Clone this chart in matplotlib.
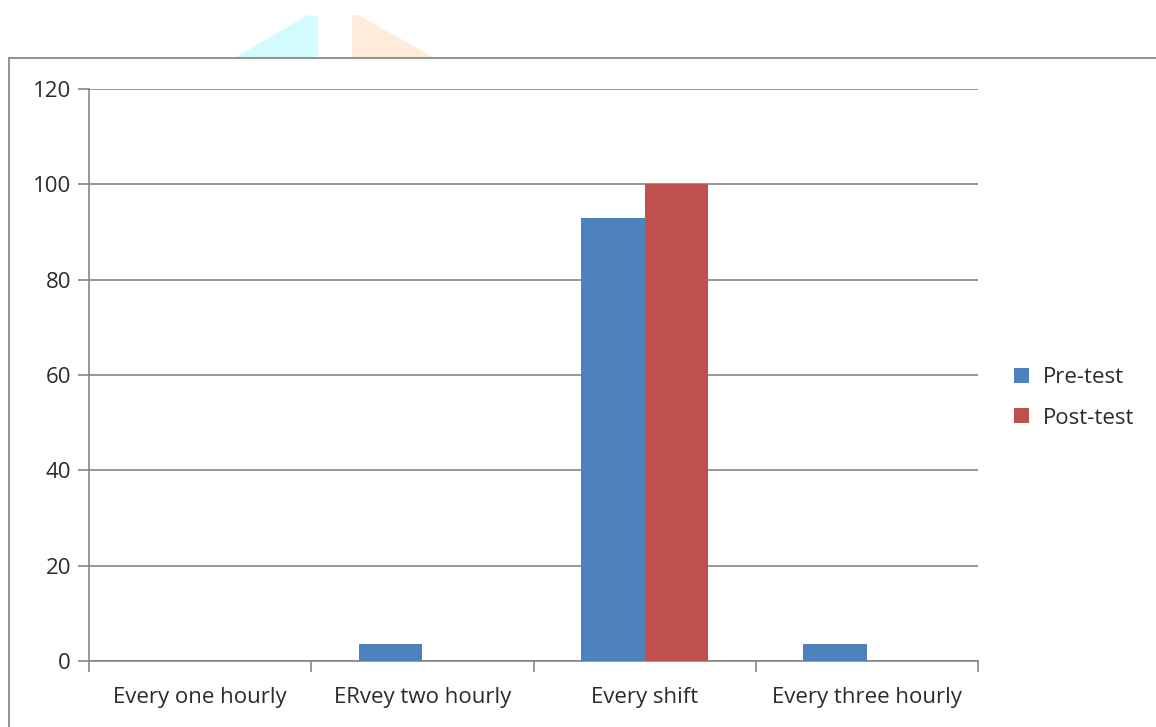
import matplotlib.pyplot as plt
from matplotlib.patches import Rectangle, Polygon

# survey answers (%)
categories = ['Every one hourly', 'ERvey two hourly', 'Every shift', 'Every three hourly']
pre_test = [0, 3.57, 92.86, 3.57]
post_test = [0, 0, 100, 0]
y_ticks = [0, 20, 40, 60, 80, 100, 120]

BLUE = '#4F81BD'
RED = '#C0504D'
GRID = '#868686'
TEXT = '#2b2b2b'
FS = 16

plt.rcParams['font.family'] = ['Open Sans', 'DejaVu Sans']

W, H = 1156, 727
fig = plt.figure(figsize=(W / 100, H / 100), dpi=100)

# faint logo shapes peeking above the chart frame
fig.patches.append(Polygon([(236 / W, 1 - 57 / H), (308 / W, 1 - 15 / H), (318 / W, 1 - 17 / H),
                            (318 / W, 1 - 57 / H)], closed=True, transform=fig.transFigure,
                           facecolor='#D2FBFD', edgecolor='none', zorder=0))
fig.patches.append(Polygon([(352 / W, 1 - 57 / H), (352 / W, 1 - 15 / H), (358 / W, 1 - 15 / H),
                            (433 / W, 1 - 57 / H)], closed=True, transform=fig.transFigure,
                           facecolor='#FEECDA', edgecolor='none', zorder=0))

# chart frame
fig.patches.append(Rectangle((8.5 / W, -0.1), 1.2, 1 - 57.5 / H + 0.1, transform=fig.transFigure,
                             facecolor='white', edgecolor='#7F7F7F', linewidth=1.2, zorder=1))

ax = fig.add_axes([89 / W, 1 - 661 / H, (978 - 89) / W, (661 - 89) / H])
ax.set_zorder(2)
ax.patch.set_alpha(0)

n = len(categories)
bw = 1 / 3.5
centers = [i + 0.5 for i in range(n)]
ax.bar([c - bw for c in centers], pre_test, width=bw, align='edge', color=BLUE, label='Pre-test', zorder=3)
ax.bar(centers, post_test, width=bw, align='edge', color=RED, label='Post-test', zorder=3)

ax.set_xlim(0, n)
ax.set_ylim(0, 120)
ax.set_yticks(y_ticks)
ax.yaxis.grid(True, color=GRID, linewidth=1.2)
ax.set_axisbelow(True)

ax.set_xticks(range(n + 1))
ax.set_xticklabels([])
ax.set_xticks(centers, minor=True)
ax.set_xticklabels(categories, minor=True)
ax.tick_params(axis='x', which='major', direction='out', length=8, width=1.2, color=GRID)
ax.tick_params(axis='x', which='minor', length=0, pad=19, labelsize=FS, labelcolor=TEXT)
ax.tick_params(axis='y', direction='out', length=8, width=1.2, color=GRID, pad=5,
               labelsize=FS, labelcolor=TEXT)

for side in ['top', 'right']:
    ax.spines[side].set_visible(False)
for side in ['left', 'bottom']:
    ax.spines[side].set_color(GRID)
    ax.spines[side].set_linewidth(1.2)

leg = ax.legend(loc='center left', bbox_to_anchor=(1.028, 0.46), frameon=False, fontsize=FS,
                borderpad=0, handlelength=0.67, handleheight=0.67, handletextpad=0.63,
                labelspacing=0.88)
for t in leg.get_texts():
    t.set_color(TEXT)

fig.savefig('out.png', dpi=100)
